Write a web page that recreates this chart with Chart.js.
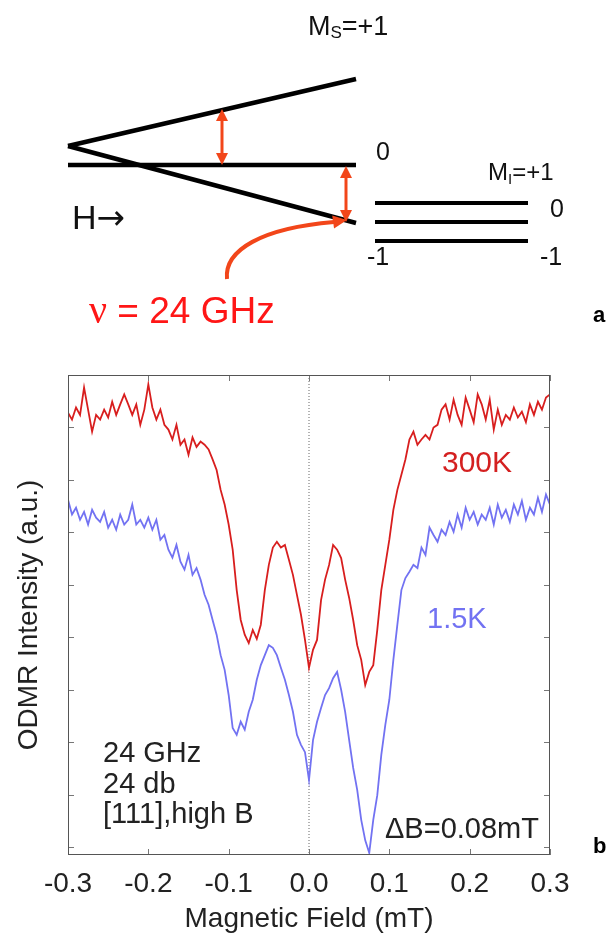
<!DOCTYPE html>
<html>
<head>
<meta charset="utf-8">
<script src="https://cdn.jsdelivr.net/npm/chart.js@4/dist/chart.umd.min.js"></script>
<style>
html, body { margin: 0; padding: 0; background: #fff; }
canvas { display: block; }
</style>
</head>
<body>
<canvas id="odmr" width="608" height="938"></canvas>
<script>
// magnetic field offset (mT)
const fieldB = [
    -0.300, -0.295, -0.290, -0.285, -0.280, -0.275, -0.270, -0.265, -0.260, -0.255,
    -0.250, -0.245, -0.240, -0.235, -0.230, -0.225, -0.220, -0.215, -0.210, -0.205,
    -0.200, -0.195, -0.190, -0.185, -0.180, -0.175, -0.170, -0.165, -0.160, -0.155,
    -0.150, -0.145, -0.140, -0.135, -0.130, -0.125, -0.120, -0.115, -0.110, -0.105,
    -0.100, -0.095, -0.090, -0.085, -0.080, -0.075, -0.070, -0.065, -0.060, -0.055,
    -0.050, -0.045, -0.040, -0.035, -0.030, -0.025, -0.020, -0.015, -0.010, -0.005,
    0.000, 0.005, 0.010, 0.015, 0.020, 0.025, 0.030, 0.035, 0.040, 0.045,
    0.050, 0.055, 0.060, 0.065, 0.070, 0.075, 0.080, 0.085, 0.090, 0.095,
    0.100, 0.105, 0.110, 0.115, 0.120, 0.125, 0.130, 0.135, 0.140, 0.145,
    0.150, 0.155, 0.160, 0.165, 0.170, 0.175, 0.180, 0.185, 0.190, 0.195,
    0.200, 0.205, 0.210, 0.215, 0.220, 0.225, 0.230, 0.235, 0.240, 0.245,
    0.250, 0.255, 0.260, 0.265, 0.270, 0.275, 0.280, 0.285, 0.290, 0.295, 0.300
];

// ODMR intensity, arbitrary units
const odmr300K = [
    8.28, 8.15, 8.38, 8.24, 8.76, 8.34, 7.92, 8.24, 8.15, 8.34,
    8.19, 8.49, 8.24, 8.44, 8.63, 8.44, 8.24, 8.44, 8.05, 8.34,
    8.82, 8.38, 8.15, 8.34, 8.05, 7.96, 7.77, 8.05, 7.67, 7.77,
    7.48, 7.81, 7.63, 7.73, 7.67, 7.58, 7.39, 7.19, 6.81, 6.53,
    6.15, 5.67, 4.90, 4.33, 4.05, 3.89, 4.14, 3.97, 4.24, 4.90,
    5.38, 5.71, 5.82, 5.71, 5.76, 5.48, 5.19, 4.81, 4.43, 3.95,
    3.42, 3.76, 3.95, 4.71, 5.10, 5.38, 5.76, 5.67, 5.51, 5.10,
    4.75, 4.33, 3.85, 3.57, 3.09, 3.34, 3.47, 4.14, 4.90, 5.38,
    5.86, 6.43, 6.81, 7.10, 7.39, 7.77, 7.92, 7.67, 7.77, 7.86,
    7.77, 8.00, 8.05, 8.34, 8.44, 8.15, 8.53, 8.24, 8.05, 8.57,
    8.34, 8.10, 8.63, 8.44, 8.15, 8.53, 7.96, 8.34, 8.05, 8.24,
    8.15, 8.38, 8.19, 8.30, 8.10, 8.44, 8.24, 8.49, 8.34, 8.57, 8.63
];

const odmr1p5K = [
    6.62, 6.34, 6.47, 6.24, 6.39, 6.15, 6.43, 6.28, 6.20, 6.39,
    6.09, 6.24, 6.05, 6.34, 6.15, 6.24, 6.53, 6.15, 6.24, 6.09,
    6.28, 6.05, 6.24, 5.86, 5.95, 5.67, 5.52, 5.76, 5.44, 5.29,
    5.57, 5.19, 5.32, 5.10, 4.81, 4.62, 4.33, 4.05, 3.66, 3.38,
    2.90, 2.27, 2.14, 2.39, 2.24, 2.58, 2.81, 3.19, 3.47, 3.66,
    3.85, 3.80, 3.66, 3.42, 3.19, 2.90, 2.58, 2.14, 1.95, 1.81,
    1.28, 2.04, 2.39, 2.65, 2.90, 3.03, 3.22, 3.34, 3.00, 2.58,
    2.04, 1.51, 1.09, 0.52, 0.13, -0.11, 0.52, 0.99, 1.76, 2.33,
    2.81, 3.57, 4.24, 4.90, 5.13, 5.25, 5.38, 5.32, 5.71, 5.57,
    6.09, 5.95, 5.82, 6.05, 5.95, 6.20, 6.01, 6.34, 6.09, 6.47,
    6.24, 6.39, 6.15, 6.34, 6.24, 6.47, 6.15, 6.53, 6.28, 6.43,
    6.20, 6.53, 6.34, 6.60, 6.24, 6.47, 6.34, 6.66, 6.39, 6.72, 6.53
];

const seriesLabels = ['300K', '1.5K'];
const infoLines = ['24 GHz', '24 db', '[111],high B'];

const FONT = '"Liberation Sans", Arial, Helvetica, sans-serif';
const SERIF = '"Liberation Serif", "Times New Roman", serif';
const RED = '#d81e1e';
const BLUE = '#7272f2';
const ARROW = '#f2461a';

function seg(ctx, x1, y1, x2, y2, w, c) {
    ctx.beginPath();
    ctx.moveTo(x1, y1);
    ctx.lineTo(x2, y2);
    ctx.lineWidth = w;
    ctx.strokeStyle = c;
    ctx.stroke();
}

function head(ctx, x, y, ang, len, half, c) {
    ctx.save();
    ctx.translate(x, y);
    ctx.rotate(ang);
    ctx.beginPath();
    ctx.moveTo(0, 0);
    ctx.lineTo(-len, -half);
    ctx.lineTo(-len, half);
    ctx.closePath();
    ctx.fillStyle = c;
    ctx.fill();
    ctx.restore();
}

function txt(ctx, s, x, y, size, color, weight, family) {
    ctx.font = (weight || 'normal') + ' ' + size + 'px ' + (family || FONT);
    ctx.fillStyle = color || '#111';
    ctx.textAlign = 'left';
    ctx.textBaseline = 'alphabetic';
    ctx.fillText(s, x, y);
    return ctx.measureText(s).width;
}

function drawDiagram(ctx) {
    ctx.save();
    ctx.lineCap = 'butt';
    // electron spin levels
    seg(ctx, 68, 146, 356, 79, 4.5, '#000');
    seg(ctx, 68, 146, 356, 223, 4.5, '#000');
    seg(ctx, 68, 165, 356, 165, 4.5, '#000');
    // nuclear levels
    seg(ctx, 375, 203, 528, 203, 4, '#000');
    seg(ctx, 375, 222, 528, 222, 4, '#000');
    seg(ctx, 375, 241, 528, 241, 4, '#000');

    // transition arrows
    [[222, 109, 165], [346, 166, 222]].forEach(([x, y1, y2]) => {
        seg(ctx, x, y1 + 9, x, y2 - 9, 3, ARROW);
        head(ctx, x, y1, -Math.PI / 2, 12, 6, ARROW);
        head(ctx, x, y2, Math.PI / 2, 12, 6, ARROW);
    });

    // microwave arrow
    ctx.beginPath();
    ctx.moveTo(227, 279);
    ctx.bezierCurveTo(224, 250, 262, 228, 334, 222);
    ctx.lineWidth = 4;
    ctx.strokeStyle = ARROW;
    ctx.stroke();
    head(ctx, 347, 220, -0.14, 14, 6.5, ARROW);

    // labels
    let x = 308;
    x += txt(ctx, 'M', x, 35, 27);
    x += txt(ctx, 'S', x, 38, 17);
    txt(ctx, '=+1', x, 35, 27);
    txt(ctx, '0', 376, 160, 25);
    x = 488;
    x += txt(ctx, 'M', x, 180, 24);
    x += txt(ctx, 'I', x, 184, 15);
    txt(ctx, '=+1', x, 180, 24);
    txt(ctx, '0', 550, 217, 25);
    txt(ctx, '-1', 367, 265, 25);
    txt(ctx, '-1', 540, 265, 25);
    x = 72 + txt(ctx, 'H', 72, 229, 34);
    txt(ctx, '\u2192', x, 229, 34, '#111', 'normal', '"DejaVu Sans", sans-serif');
    x = 89 + txt(ctx, '\u03bd', 89, 323, 40, '#ff1616', 'normal', SERIF);
    txt(ctx, ' = 24 GHz', x, 323, 37, '#ff1616');
    txt(ctx, 'a', 593, 322, 22, '#000', 'bold');
    ctx.restore();
}

const figurePlugin = {
    id: 'figure',
    beforeDatasetsDraw(chart) {
        const { ctx, chartArea: a, scales: { x } } = chart;
        const x0 = x.getPixelForValue(0);
        ctx.save();
        ctx.setLineDash([1, 2]);
        seg(ctx, x0, a.top, x0, a.bottom, 1, '#666');
        ctx.restore();
    },
    afterDatasetsDraw(chart) {
        const { ctx, chartArea: a, scales: { x, y } } = chart;
        ctx.save();
        x.ticks.forEach(t => {
            const px = Math.round(x.getPixelForValue(t.value)) + 0.5;
            seg(ctx, px, a.bottom, px, a.bottom - 6, 1, '#777');
            seg(ctx, px, a.top, px, a.top + 6, 1, '#777');
        });
        y.ticks.forEach(t => {
            const py = Math.round(y.getPixelForValue(t.value)) + 0.5;
            seg(ctx, a.left, py, a.left + 6, py, 1, '#777');
            seg(ctx, a.right, py, a.right - 6, py, 1, '#777');
        });
        ctx.strokeStyle = '#555';
        ctx.lineWidth = 1;
        ctx.strokeRect(a.left + 0.5, a.top + 0.5, a.right - a.left - 1, a.bottom - a.top - 1);
        ctx.restore();
    },
    afterDraw(chart) {
        const ctx = chart.ctx;
        ctx.save();
        txt(ctx, seriesLabels[0], 442, 472, 30, '#d42020');
        txt(ctx, seriesLabels[1], 427, 628, 29, BLUE);
        infoLines.forEach((s, i) => txt(ctx, s, 103, 762 + i * 30.5, 29, '#222'));
        txt(ctx, '\u0394B=0.08mT', 385, 838, 29, '#222');
        txt(ctx, 'b', 593, 853, 22, '#000', 'bold');
        ctx.restore();
        drawDiagram(ctx);
    }
};

new Chart(document.getElementById('odmr'), {
    type: 'line',
    data: {
        datasets: [
            {
                label: seriesLabels[0],
                data: fieldB.map((b, i) => ({ x: b, y: odmr300K[i] })),
                borderColor: RED,
                borderWidth: 1.8,
                pointRadius: 0,
                tension: 0,
            },
            {
                label: seriesLabels[1],
                data: fieldB.map((b, i) => ({ x: b, y: odmr1p5K[i] })),
                borderColor: BLUE,
                borderWidth: 1.8,
                pointRadius: 0,
                tension: 0,
            },
        ],
    },
    options: {
        responsive: false,
        animation: false,
        devicePixelRatio: 1,
        layout: { padding: { top: 375, right: 58, left: 0, bottom: 0 } },
        plugins: {
            legend: { display: false },
            tooltip: { enabled: false },
        },
        scales: {
            x: {
                type: 'linear',
                min: -0.3,
                max: 0.3,
                afterFit: s => { s.height = 83; },
                ticks: {
                    stepSize: 0.1,
                    maxRotation: 0,
                    padding: 12,
                    color: '#222',
                    font: { family: FONT, size: 28 },
                    callback: v => (Math.abs(v) < 1e-9 ? '0.0' : v.toFixed(1)),
                },
                grid: { display: false, drawTicks: false },
                border: { display: false },
                title: {
                    display: true,
                    text: 'Magnetic Field (mT)',
                    color: '#222',
                    font: { family: FONT, size: 28 },
                    padding: { top: 0, bottom: 2 },
                },
            },
            y: {
                min: -0.15,
                max: 9,
                afterFit: s => { s.width = 68; },
                ticks: { display: false, stepSize: 1, includeBounds: false },
                grid: { display: false, drawTicks: false },
                border: { display: false },
                title: {
                    display: true,
                    text: 'ODMR Intensity (a.u.)',
                    color: '#222',
                    font: { family: FONT, size: 28 },
                    padding: { top: 12, bottom: 0 },
                },
            },
        },
    },
    plugins: [figurePlugin],
});
</script>
</body>
</html>
